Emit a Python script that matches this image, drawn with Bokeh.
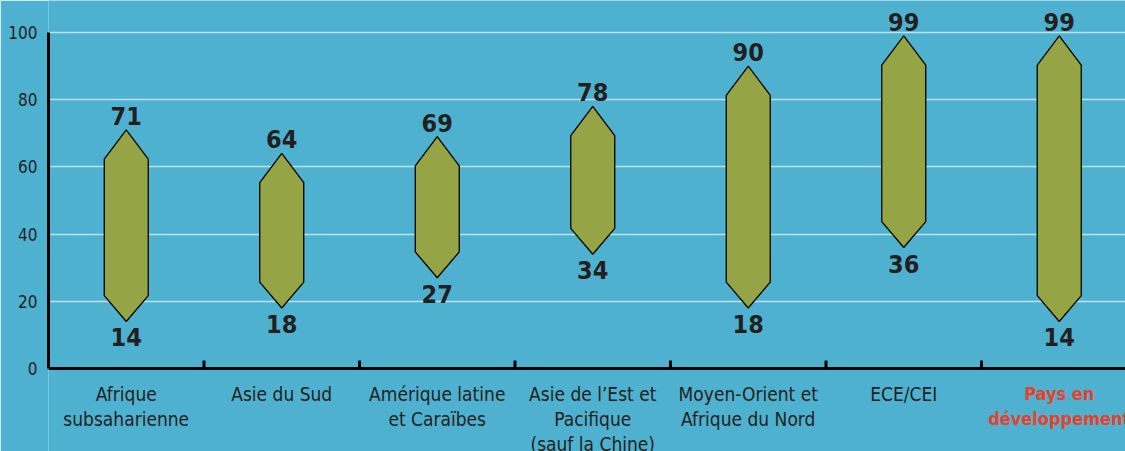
from bokeh.plotting import figure
from bokeh.models import Range1d, FixedTicker, Span, ColumnDataSource
from bokeh.core.properties import value
from bokeh.embed import file_html
from bokeh.resources import INLINE

categories = ["Afrique\nsubsaharienne", "Asie du Sud", "Amérique latine\net Caraïbes",
              "Asie de l’Est et\nPacifique\n(sauf la Chine)", "Moyen-Orient et\nAfrique du Nord",
              "ECE/CEI", "Pays en\ndéveloppement"]
low = [14, 18, 27, 34, 18, 36, 14]
high = [71, 64, 69, 78, 90, 99, 99]
y_ticks = [0, 20, 40, 60, 80, 100]

BG = "#4EB1D0"
FILL = "#95A546"
DARK = "#231F20"
RED = "#E8412B"
FONT = "Liberation Sans Narrow, DejaVu Sans Condensed, sans-serif"

PX = 3.36          # pixels per value unit
CAT = 155.5        # pixels per category
LEFT = 48
x0 = 0.0
y_top = 368 / PX
y_bot = -(451 - 368) / PX

p = figure(width=1125, height=451, output_backend="svg", toolbar_location=None,
           x_range=Range1d(x0, x0 + (1125 - LEFT) / CAT), y_range=Range1d(y_bot, y_top),
           min_border_left=LEFT, min_border_right=0, min_border_top=0, min_border_bottom=0)
p.background_fill_color = BG
p.border_fill_color = BG
p.outline_line_color = None

p.xaxis.visible = False

p.yaxis.ticker = FixedTicker(ticks=y_ticks)
p.yaxis.bounds = (0, 100)
p.yaxis.axis_line_width = 3
p.yaxis.axis_line_color = "black"
p.yaxis.major_tick_line_color = None
p.yaxis.minor_tick_line_color = None
p.yaxis.major_label_standoff = 5
p.yaxis.major_label_text_font = FONT
p.yaxis.major_label_text_font_size = "17px"
p.yaxis.major_label_text_color = DARK

p.xgrid.grid_line_color = None
p.ygrid.ticker = FixedTicker(ticks=[20, 40, 60, 80, 100])
p.ygrid.grid_line_color = "#BCE2EE"
p.ygrid.grid_line_width = 1.5

# baseline (x axis) and separator ticks
p.add_layout(Span(location=0, dimension="width", line_color="black", line_width=3))
bounds = list(range(1, len(categories)))
p.segment(x0=bounds, y0=[0] * len(bounds), x1=bounds, y1=[8 / PX] * len(bounds),
          line_color="black", line_width=3)

# hexagons
hw = 22 / CAT
tip_top = 8.7
tip_bot = 7.7
xs, ys = [], []
for i, (lo, hi) in enumerate(zip(low, high)):
    c = i + 0.5
    xs.append([c - hw, c, c + hw, c + hw, c, c - hw])
    ys.append([hi - tip_top, hi, hi - tip_top, lo + tip_bot, lo, lo + tip_bot])
p.patches(xs, ys, fill_color=FILL, line_color="black", line_width=1.3)

centers = [i + 0.5 for i in range(len(categories))]
src_hi = ColumnDataSource(dict(x=centers, y=[h + 5 / PX for h in high], t=[str(h) for h in high]))
src_lo = ColumnDataSource(dict(x=centers, y=[l - 7 / PX for l in low], t=[str(l) for l in low]))
for src, base in ((src_hi, "bottom"), (src_lo, "top")):
    p.text(x="x", y="y", text="t", source=src, text_align="center", text_baseline=base,
           text_font=value(FONT), text_font_style="bold", text_font_size="25px",
           text_color=DARK)

# category labels
ly = -4.3
p.text(x=centers[:-1], y=[ly] * (len(centers) - 1), text=categories[:-1],
       text_align="center", text_baseline="top", text_font=value(FONT),
       text_font_size="19px", text_color=DARK, text_line_height=1.14)
p.text(x=centers[-1:], y=[ly], text=categories[-1:],
       text_align="center", text_baseline="top", text_font=value(FONT),
       text_font_size="18px", text_font_style="bold", text_color=RED, text_line_height=1.2)

open("out.html", "w").write(file_html(p, INLINE))
